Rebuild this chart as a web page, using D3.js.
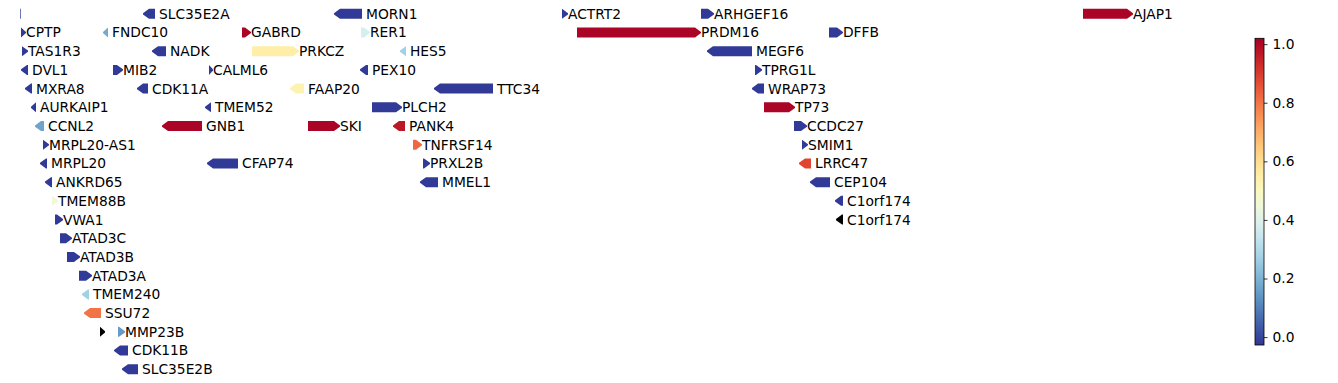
<!DOCTYPE html>
<html>
<head>
<meta charset="utf-8">
<script src="https://cdn.jsdelivr.net/npm/d3@7"></script>
<style>
  body { margin: 0; background: #fff; }
  svg text { font-family: "DejaVu Sans", sans-serif; }
</style>
</head>
<body>
<div id="chart"></div>
<script>

// gene track data (positions in track units, row = stacking level)
const geneNames  = [ "", "SLC35E2A", "MORN1", "ACTRT2", "ARHGEF16", "AJAP1",
                     "CPTP", "FNDC10", "GABRD", "RER1", "PRDM16", "DFFB",
                     "TAS1R3", "NADK", "PRKCZ", "HES5", "MEGF6",
                     "DVL1", "MIB2", "CALML6", "PEX10", "TPRG1L",
                     "MXRA8", "CDK11A", "FAAP20", "TTC34", "WRAP73",
                     "AURKAIP1", "TMEM52", "PLCH2", "TP73",
                     "CCNL2", "GNB1", "SKI", "PANK4", "CCDC27",
                     "MRPL20-AS1", "TNFRSF14", "SMIM1",
                     "MRPL20", "CFAP74", "PRXL2B", "LRRC47",
                     "ANKRD65", "MMEL1", "CEP104",
                     "TMEM88B", "C1orf174",
                     "VWA1", "C1orf174",
                     "ATAD3C", "ATAD3B", "ATAD3A", "TMEM240", "SSU72",
                     "", "MMP23B", "CDK11B", "SLC35E2B" ];
const geneStarts = [ 0, 123, 314, 542, 681, 1063,
                     1, 83, 222, 341, 557, 809,
                     2, 132, 232, 380, 687,
                     1, 93, 189, 340, 735,
                     5, 117, 270, 414, 732,
                     11, 185, 352, 744,
                     15, 142, 288, 373, 774,
                     23, 393, 782,
                     20, 187, 403, 779,
                     25, 400, 790,
                     32, 815,
                     35, 816,
                     40, 47, 59, 62, 64,
                     80, 98, 94, 102 ];
const geneEnds   = [ 1, 135, 342, 548, 694, 1113,
                     6, 88, 231, 350, 681, 823,
                     8, 146, 279, 386, 732,
                     8, 103, 193, 348, 742,
                     12, 128, 284, 473, 744,
                     16, 191, 382, 775,
                     24, 182, 320, 385, 787,
                     29, 402, 788,
                     27, 218, 410, 791,
                     32, 418, 810,
                     38, 823,
                     43, 823,
                     52, 60, 72, 69, 81,
                     85, 105, 108, 118 ];
const geneStrand = [ 1, -1, -1, 1, 1, 1,
                     1, -1, 1, 1, 1, 1,
                     1, -1, 1, -1, -1,
                     -1, 1, 1, -1, 1,
                     -1, -1, -1, -1, -1,
                     -1, -1, 1, 1,
                     -1, -1, 1, -1, 1,
                     1, 1, 1,
                     -1, -1, 1, -1,
                     -1, -1, -1,
                     1, -1,
                     1, -1,
                     1, 1, 1, -1, -1,
                     1, 1, -1, -1 ];
const geneRow    = [ 0, 0, 0, 0, 0, 0,
                     1, 1, 1, 1, 1, 1,
                     2, 2, 2, 2, 2,
                     3, 3, 3, 3, 3,
                     4, 4, 4, 4, 4,
                     5, 5, 5, 5,
                     6, 6, 6, 6, 6,
                     7, 7, 7,
                     8, 8, 8, 8,
                     9, 9, 9,
                     10, 10,
                     11, 11,
                     12, 13, 14, 15, 16,
                     17, 17, 18, 19 ];
const geneValue  = [ -0.02, -0.02, -0.02, -0.02, -0.02, 1.01,
                     -0.02, 0.18, 1.01, 0.38, 1.01, -0.02,
                     -0.02, -0.02, 0.55, 0.27, -0.02,
                     -0.02, -0.02, -0.02, -0.02, -0.02,
                     -0.02, -0.02, 0.53, -0.02, -0.02,
                     -0.02, -0.02, -0.02, 1.01,
                     0.17, 1.01, 1.01, 0.97, -0.02,
                     -0.02, 0.82, -0.02,
                     -0.02, -0.02, -0.02, 0.88,
                     -0.02, -0.02, -0.02,
                     0.45, -0.02,
                     -0.02, NaN,
                     -0.02, -0.02, -0.02, 0.27, 0.8,
                     NaN, 0.15, -0.02, -0.02 ];

const colorMin   = -0.027;
const colorMax   = 1.02;
const colorTicks = [ 0.0, 0.2, 0.4, 0.6, 0.8, 1.0 ];

const width  = 1338;
const height = 383;

const genes = geneNames.map( ( name, i ) => ({
    name   : name,
    start  : geneStarts[ i ],
    end    : geneEnds[ i ],
    strand : geneStrand[ i ],
    row    : geneRow[ i ],
    value  : geneValue[ i ]
}));

const x = d3.scaleLinear()
            .domain( [ 0, 1225 ] )
            .range(  [ 20, 1245 ] );

const y = d3.scaleLinear()
            .domain( [ 0, 19 ] )
            .range(  [ 13.8, 369.2 ] );

const norm  = d3.scaleLinear().domain( [ colorMin, colorMax ] ).clamp( true );
const color = v => isNaN( v ) ? "#000000" : d3.interpolateRdYlBu( 1 - norm( v ) );

const svg = d3.select( "#chart" )
              .append( "svg" )
              .attr( "width",  width )
              .attr( "height", height );

const halfH   = 5;
const headLen = 6;

// arrow outline for one gene
function arrowPath( d )
{
    const x0 = x( d.start );
    const x1 = Math.max( x( d.end ), x0 + 1 );
    const cy = y( d.row );
    const len = x1 - x0;
    const h = Math.min( headLen, len );

    if ( len <= 1.5 )
    {
        return `M${x0},${cy - halfH}L${x1},${cy - halfH}L${x1},${cy + halfH}L${x0},${cy + halfH}Z`;
    }
    if ( d.strand > 0 )
    {
        return `M${x0},${cy - halfH}L${x1 - h},${cy - halfH}L${x1},${cy - 0.6}L${x1},${cy + 0.6}` +
               `L${x1 - h},${cy + halfH}L${x0},${cy + halfH}Z`;
    }
    return `M${x1},${cy - halfH}L${x0 + h},${cy - halfH}L${x0},${cy - 0.6}L${x0},${cy + 0.6}` +
           `L${x0 + h},${cy + halfH}L${x1},${cy + halfH}Z`;
}

const track = svg.append( "g" );

track.selectAll( "path" )
     .data( genes )
     .join( "path" )
     .attr( "d", arrowPath )
     .attr( "fill", d => color( d.value ) )
     .attr( "fill-opacity", d => d.end - d.start <= 1 ? 0.7 : 1 );

track.selectAll( "text" )
     .data( genes.filter( d => d.name !== "" ) )
     .join( "text" )
     .attr( "x", d => x( d.end ) + ( d.strand > 0 ? 0 : 4 ) )
     .attr( "y", d => y( d.row ) )
     .attr( "dy", "0.36em" )
     .attr( "font-size", "13.8px" )
     .attr( "fill", "#000" )
     .text( d => d.name );

// colorbar
const cbX = 1255, cbW = 9, cbTop = 38.3, cbBottom = 345;

const cbScale = d3.scaleLinear()
                  .domain( [ colorMin, colorMax ] )
                  .range(  [ cbBottom, cbTop ] );

const grad = svg.append( "defs" )
                .append( "linearGradient" )
                .attr( "id", "cbGrad" )
                .attr( "x1", 0 ).attr( "y1", 1 )
                .attr( "x2", 0 ).attr( "y2", 0 );

grad.selectAll( "stop" )
    .data( d3.range( 0, 1.0001, 0.05 ) )
    .join( "stop" )
    .attr( "offset", t => t )
    .attr( "stop-color", t => d3.interpolateRdYlBu( 1 - t ) );

svg.append( "rect" )
   .attr( "x", cbX )
   .attr( "y", cbTop )
   .attr( "width", cbW )
   .attr( "height", cbBottom - cbTop )
   .attr( "fill", "url(#cbGrad)" )
   .attr( "stroke", "#000" )
   .attr( "stroke-width", 0.8 );

const cbAxis = svg.append( "g" )
                  .attr( "transform", `translate(${cbX + cbW},0)` )
                  .call( d3.axisRight( cbScale )
                           .tickValues( colorTicks )
                           .tickFormat( d3.format( ".1f" ) )
                           .tickSize( 3.5 )
                           .tickPadding( 5 ) );

cbAxis.select( ".domain" ).remove();
cbAxis.selectAll( "line" ).attr( "stroke", "#000" ).attr( "stroke-width", 0.8 );
cbAxis.selectAll( "text" )
      .attr( "font-size", "13.8px" )
      .attr( "font-family", "DejaVu Sans, sans-serif" )
      .attr( "fill", "#000" );

</script>
</body>
</html>
